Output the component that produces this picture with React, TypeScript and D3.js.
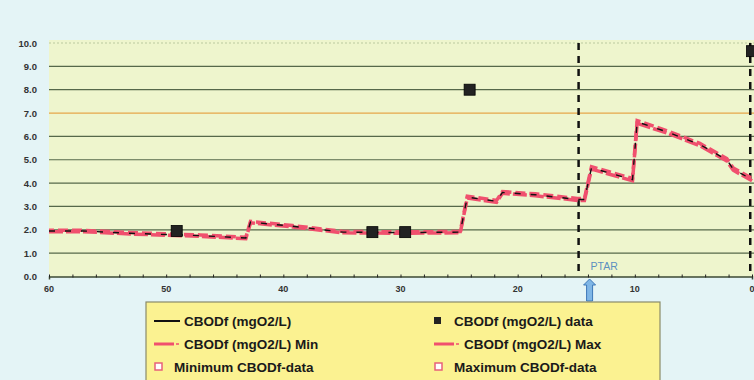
import React, { useRef, useEffect } from 'react';
import * as d3 from 'd3';

// model profile (km downstream distance, CBODf mgO2/L)
const modelKm = [60, 57.1, 53.1, 47.1, 43.2, 42.8, 39.2, 36.6, 34.9, 30.0, 24.9, 24.3, 21.8, 21.3, 18.5, 14.9, 14.3, 13.7, 10.2, 9.8, 7.3, 4.45, 2.15, 1.6, 0];
const modelVal = [1.95, 1.95, 1.85, 1.75, 1.65, 2.33, 2.15, 2.0, 1.9, 1.88, 1.9, 3.4, 3.22, 3.6, 3.5, 3.3, 3.3, 4.65, 4.15, 6.62, 6.2, 5.65, 5.0, 4.6, 4.15];
const minVal = [1.92, 1.92, 1.82, 1.72, 1.62, 2.3, 2.12, 1.97, 1.87, 1.85, 1.87, 3.36, 3.18, 3.56, 3.46, 3.26, 3.26, 4.6, 4.1, 6.56, 6.15, 5.6, 4.95, 4.55, 4.1];
const maxVal = [1.98, 1.98, 1.88, 1.78, 1.68, 2.36, 2.18, 2.03, 1.93, 1.91, 1.93, 3.44, 3.26, 3.64, 3.54, 3.34, 3.34, 4.7, 4.2, 6.68, 6.25, 5.7, 5.05, 4.65, 4.2];

const obsKm = [49.1, 32.4, 29.6, 24.1, 0];
const obsVal = [1.95, 1.9, 1.9, 8.0, 9.65];

const yTicks = [0, 1, 2, 3, 4, 5, 6, 7, 8, 9, 10];
const xTicks = [60, 50, 40, 30, 20, 10, 0];
const markerKm = [14.8, 0.15];
const standard = 7.0;

const legendItems = [
  { label: 'CBODf (mgO2/L)', kind: 'line' },
  { label: 'CBODf (mgO2/L) data', kind: 'square' },
  { label: 'CBODf (mgO2/L) Min', kind: 'dash' },
  { label: 'CBODf (mgO2/L) Max', kind: 'dash' },
  { label: 'Minimum CBODf-data', kind: 'open' },
  { label: 'Maximum CBODf-data', kind: 'open' },
];

const App: React.FC = () => {
  const svgRef = useRef<SVGSVGElement>(null);

  useEffect(() => {
    if (!svgRef.current) return;
    const width = 754, height = 380;
    const svg = d3.select(svgRef.current);
    svg.selectAll('*').remove();

    const x = d3.scaleLinear().domain([60, 0]).range([49, 752]);
    const y = d3.scaleLinear().domain([0, 10]).range([276.5, 43]);

    svg.append('rect').attr('width', width).attr('height', height).attr('fill', '#e4f4f6');
    svg.append('rect')
      .attr('x', 49).attr('y', 40).attr('width', width - 49).attr('height', 237)
      .attr('fill', '#eef5cd');

    // gridlines
    svg.append('g')
      .selectAll('line')
      .data(yTicks.filter(d => d > 0))
      .join('line')
      .attr('x1', 49).attr('x2', width)
      .attr('y1', d => y(d)).attr('y2', d => y(d))
      .attr('stroke', d => d === standard ? '#e6a64a' : d === 10 ? '#b9c9a0' : '#56684a')
      .attr('stroke-width', 1.2)
      .attr('stroke-dasharray', d => d === 10 ? '2,2' : null);

    // x axis
    const xAxis = d3.axisBottom(x)
      .tickValues(d3.range(0, 61, 2))
      .tickSize(3)
      .tickFormat(() => '');
    const gx = svg.append('g').attr('transform', `translate(0,${y(0)})`).call(xAxis);
    gx.select('.domain').attr('stroke', '#3c4a34').attr('stroke-width', 1.5);
    gx.selectAll('.tick line').attr('stroke', '#222').attr('y1', -2).attr('y2', 1);

    svg.append('g')
      .selectAll('text')
      .data(xTicks)
      .join('text')
      .attr('x', d => x(d)).attr('y', 292)
      .attr('text-anchor', 'middle')
      .attr('font-family', 'Liberation Sans, Arial, sans-serif')
      .attr('font-weight', 'bold').attr('font-size', 9)
      .attr('fill', '#333')
      .text(d => d);

    svg.append('g')
      .selectAll('text')
      .data(yTicks)
      .join('text')
      .attr('x', 37).attr('y', d => y(d) + 3.5)
      .attr('text-anchor', 'end')
      .attr('font-family', 'Liberation Sans, Arial, sans-serif')
      .attr('font-weight', 'bold').attr('font-size', 9.5)
      .attr('fill', '#333')
      .text(d => d.toFixed(1));

    // vertical markers
    svg.append('g')
      .selectAll('line')
      .data(markerKm)
      .join('line')
      .attr('x1', d => x(d)).attr('x2', d => x(d))
      .attr('y1', 43).attr('y2', y(0))
      .attr('stroke', '#111').attr('stroke-width', 2.5)
      .attr('stroke-dasharray', '7,6');

    // PTAR label and arrow
    const px = x(markerKm[0]) + 11;
    svg.append('text')
      .attr('x', px + 1).attr('y', 270)
      .attr('text-anchor', 'start')
      .attr('font-family', 'Liberation Sans, Arial, sans-serif')
      .attr('font-size', 10.5).attr('fill', '#5b8fc0')
      .text('PTAR');
    svg.append('path')
      .attr('d', `M${px},279 L${px + 6},285 L${px + 3},285 L${px + 3},301 L${px - 3},301 L${px - 3},285 L${px - 6},285 Z`)
      .attr('fill', '#7fb6e6').attr('stroke', '#3d78b8').attr('stroke-width', 1);

    // model lines
    const idx = d3.range(modelKm.length);
    const line = (vals: number[]) => d3.line<number>().x(i => x(modelKm[i])).y(i => y(vals[i]))(idx);
    svg.append('path').attr('d', line(minVal)).attr('fill', 'none')
      .attr('stroke', '#f0506e').attr('stroke-width', 3.5).attr('stroke-dasharray', '14,3');
    svg.append('path').attr('d', line(maxVal)).attr('fill', 'none')
      .attr('stroke', '#f0506e').attr('stroke-width', 3.5).attr('stroke-dasharray', '10,4').attr('stroke-dashoffset', 5);
    svg.append('path').attr('d', line(modelVal)).attr('fill', 'none')
      .attr('stroke', '#111').attr('stroke-width', 1.4)
      .attr('stroke-dasharray', '6,10');

    // observed data
    svg.append('g')
      .selectAll('rect')
      .data(obsKm)
      .join('rect')
      .attr('x', d => x(d) - 5.5).attr('y', (d, i) => y(obsVal[i]) - 5.5)
      .attr('width', 11).attr('height', 11)
      .attr('fill', '#222').attr('stroke', '#000').attr('stroke-width', 0.8);

    // legend
    const lg = svg.append('g').attr('transform', 'translate(146,302)');
    lg.append('rect').attr('width', 514).attr('height', 90)
      .attr('fill', '#fbf291').attr('stroke', '#8a8a6a').attr('stroke-width', 1.2);
    legendItems.forEach((item, i) => {
      const cx = i % 2 === 0 ? 8 : 288;
      const cy = 24 + Math.floor(i / 2) * 23;
      const g = lg.append('g').attr('transform', `translate(${cx},${cy})`);
      if (item.kind === 'line') {
        g.append('line').attr('x1', 0).attr('x2', 26).attr('y1', -5).attr('y2', -5)
          .attr('stroke', '#111').attr('stroke-width', 2);
      } else if (item.kind === 'square') {
        g.append('rect').attr('x', 0).attr('y', -9).attr('width', 7).attr('height', 7).attr('fill', '#222');
      } else if (item.kind === 'dash') {
        g.append('line').attr('x1', 0).attr('x2', 20).attr('y1', -5).attr('y2', -5)
          .attr('stroke', '#f0506e').attr('stroke-width', 3);
        g.append('line').attr('x1', 22).attr('x2', 25).attr('y1', -5).attr('y2', -5)
          .attr('stroke', '#f0506e').attr('stroke-width', 1.5);
      } else {
        g.append('rect').attr('x', 1).attr('y', -9).attr('width', 7).attr('height', 7)
          .attr('fill', '#fff').attr('stroke', '#e8607a').attr('stroke-width', 1.5);
      }
      g.append('text')
        .attr('x', item.kind === 'line' || item.kind === 'dash' ? 30 : 20).attr('y', 0)
        .attr('font-family', 'Liberation Sans, Arial, sans-serif')
        .attr('font-weight', 'bold').attr('font-size', 13.5)
        .attr('fill', '#1a1a1a')
        .text(item.label);
    });
  }, []);

  return (
    <svg ref={svgRef} width={754} height={380}
      style={{ position: 'absolute', left: 0, top: 0, display: 'block' }}></svg>
  );
};

export default App;
